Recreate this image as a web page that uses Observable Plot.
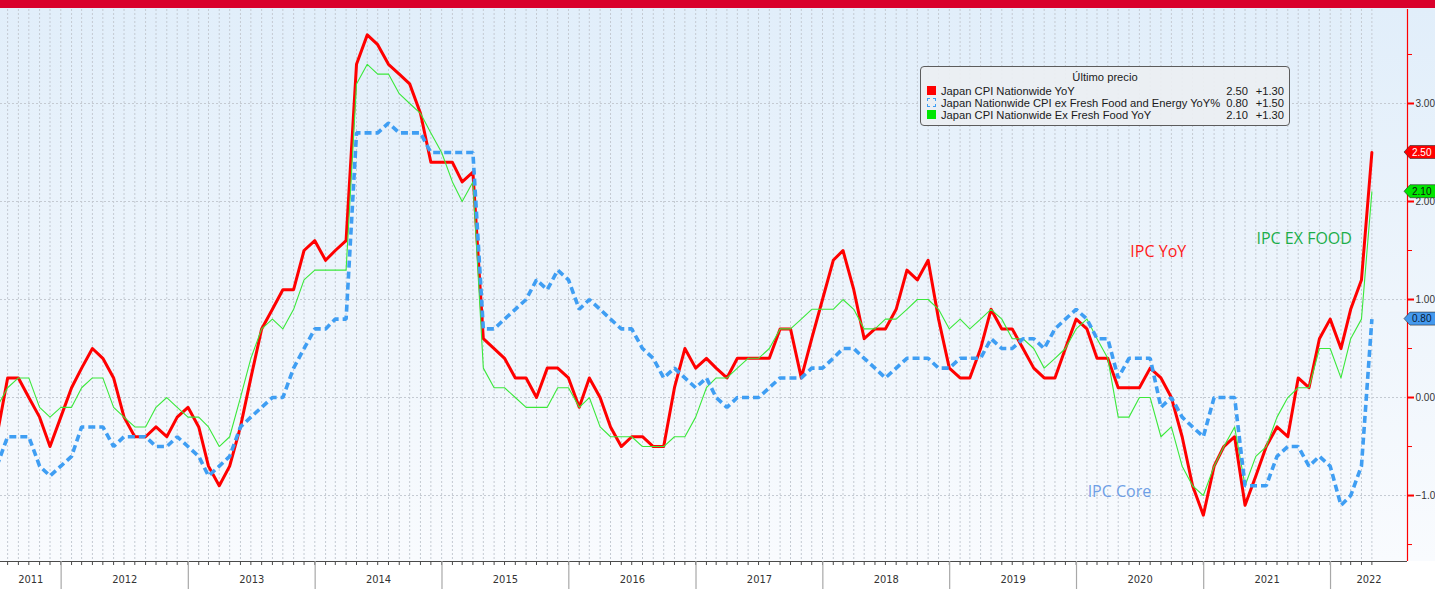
<!DOCTYPE html>
<html>
<head>
<meta charset="utf-8">
<script src="https://cdn.jsdelivr.net/npm/d3@7"></script>
<script src="https://cdn.jsdelivr.net/npm/@observablehq/plot@0.6"></script>
<style>
  body { margin: 0; background: #ffffff; }
  #wrap { position: relative; width: 1435px; height: 589px; overflow: hidden; }
  #topbar { height: 8px; background: #d9002b; }
  #chart svg { display: block; }
  #legend {
    position: absolute; left: 920px; top: 66px; width: 368px; height: 58px;
    border: 1px solid #5c5c5c; border-radius: 4px; background: rgba(236, 239, 242, 0.92);
    font-family: "Liberation Sans", Arial, sans-serif; font-size: 11.2px; color: #1a1a1a;
  }
  #legend .title { position: absolute; left: 0; width: 100%; top: 4px; text-align: center; }
  #legend .row { position: absolute; left: 0; width: 100%; height: 12px; line-height: 12px; }
  #legend .sw { position: absolute; left: 6px; top: 1px; width: 9px; height: 9px; box-sizing: border-box; }
  #legend .name { position: absolute; left: 20px; white-space: nowrap; }
  #legend .last { position: absolute; right: 41px; text-align: right; }
  #legend .chg { position: absolute; right: 5px; text-align: right; }
</style>
</head>
<body>
<div id="wrap">
  <div id="topbar"></div>
  <div id="chart"></div>
  <div id="legend"></div>
</div>
<script>
// ---- Data (monthly, June 2011 .. April 2022) ----
const firstMonth = { year: 2011, month: 6 };

const cpiYoY = [
  -0.4, 0.2, 0.2, 0.0, -0.2, -0.5, -0.2,
  0.1, 0.3, 0.5, 0.4, 0.2, -0.2, -0.4, -0.4, -0.3, -0.4, -0.2, -0.1,
  -0.3, -0.7, -0.9, -0.7, -0.3, 0.2, 0.7, 0.9, 1.1, 1.1, 1.5, 1.6,
  1.4, 1.5, 1.6, 3.4, 3.7, 3.6, 3.4, 3.3, 3.2, 2.9, 2.4, 2.4,
  2.4, 2.2, 2.3, 0.6, 0.5, 0.4, 0.2, 0.2, 0.0, 0.3, 0.3, 0.2,
  -0.1, 0.2, 0.0, -0.3, -0.5, -0.4, -0.4, -0.5, -0.5, 0.1, 0.5, 0.3,
  0.4, 0.3, 0.2, 0.4, 0.4, 0.4, 0.4, 0.7, 0.7, 0.2, 0.6, 1.0,
  1.4, 1.5, 1.1, 0.6, 0.7, 0.7, 0.9, 1.3, 1.2, 1.4, 0.8, 0.3,
  0.2, 0.2, 0.5, 0.9, 0.7, 0.7, 0.5, 0.3, 0.2, 0.2, 0.5, 0.8,
  0.7, 0.4, 0.4, 0.1, 0.1, 0.1, 0.3, 0.2, 0.0, -0.4, -0.9, -1.2,
  -0.7, -0.5, -0.4, -1.1, -0.8, -0.5, -0.3, -0.4, 0.2, 0.1, 0.6, 0.8,
  0.5, 0.9, 1.2, 2.5
];

const coreCoreYoY = [
  -0.7, -0.4, -0.4, -0.4, -0.7, -0.8, -0.7,
  -0.6, -0.3, -0.3, -0.3, -0.5, -0.4, -0.4, -0.4, -0.5, -0.5, -0.4, -0.5,
  -0.6, -0.8, -0.7, -0.6, -0.3, -0.2, -0.1, 0.0, 0.0, 0.3, 0.5, 0.7,
  0.7, 0.8, 0.8, 2.7, 2.7, 2.7, 2.8, 2.7, 2.7, 2.7, 2.5, 2.5,
  2.5, 2.5, 2.5, 0.7, 0.7, 0.8, 0.9, 1.0, 1.2, 1.1, 1.3, 1.2,
  0.9, 1.0, 0.9, 0.8, 0.7, 0.7, 0.5, 0.4, 0.2, 0.3, 0.2, 0.1,
  0.2, 0.0, -0.1, 0.0, 0.0, 0.0, 0.1, 0.2, 0.2, 0.2, 0.3, 0.3,
  0.4, 0.5, 0.5, 0.4, 0.3, 0.2, 0.3, 0.4, 0.4, 0.4, 0.3, 0.3,
  0.4, 0.4, 0.4, 0.6, 0.5, 0.5, 0.6, 0.6, 0.5, 0.7, 0.8, 0.9,
  0.8, 0.6, 0.6, 0.2, 0.4, 0.4, 0.4, -0.1, 0.0, -0.2, -0.3, -0.4,
  0.0, 0.0, 0.0, -0.9, -0.9, -0.9, -0.6, -0.5, -0.5, -0.7, -0.6, -0.7,
  -1.1, -1.0, -0.7, 0.8
];

const exFreshFoodYoY = [
  -0.1, 0.1, 0.2, 0.2, -0.1, -0.2, -0.1,
  -0.1, 0.1, 0.2, 0.2, -0.1, -0.2, -0.3, -0.3, -0.1, 0.0, -0.1, -0.2,
  -0.2, -0.3, -0.5, -0.4, 0.0, 0.4, 0.7, 0.8, 0.7, 0.9, 1.2, 1.3,
  1.3, 1.3, 1.3, 3.2, 3.4, 3.3, 3.3, 3.1, 3.0, 2.9, 2.7, 2.5,
  2.2, 2.0, 2.2, 0.3, 0.1, 0.1, 0.0, -0.1, -0.1, -0.1, 0.1, 0.1,
  -0.1, 0.0, -0.3, -0.4, -0.4, -0.4, -0.5, -0.5, -0.5, -0.4, -0.4, -0.2,
  0.1, 0.2, 0.2, 0.3, 0.4, 0.4, 0.5, 0.7, 0.7, 0.8, 0.9, 0.9,
  0.9, 1.0, 0.9, 0.7, 0.7, 0.8, 0.8, 0.9, 1.0, 1.0, 0.9, 0.7,
  0.8, 0.7, 0.8, 0.9, 0.8, 0.6, 0.6, 0.5, 0.3, 0.4, 0.5, 0.7,
  0.8, 0.6, 0.4, -0.2, -0.2, 0.0, 0.0, -0.4, -0.3, -0.7, -0.9, -1.0,
  -0.7, -0.5, -0.3, -0.9, -0.6, -0.5, -0.2, 0.0, 0.1, 0.1, 0.5, 0.5,
  0.2, 0.6, 0.8, 2.1
];

const seriesNames = [
  "Japan CPI Nationwide YoY",
  "Japan Nationwide CPI ex Fresh Food and Energy YoY%",
  "Japan CPI Nationwide Ex Fresh Food YoY"
];
const lastChanges = ["+1.30", "+1.50", "+1.30"];
const legendTitle = "Último precio";

const yearLabels = ["2011","2012","2013","2014","2015","2016","2017","2018","2019","2020","2021","2022"];
const yMajorTicks = [-1, 0, 1, 2, 3];
const yMinorTicks = [-1.5, -0.5, 0.5, 1.5, 2.5, 3.5];

const annotations = [
  { label: "IPC YoY",     date: "2020-06-04", value: 1.49 },
  { label: "IPC EX FOOD", date: "2021-06-02", value: 1.62 },
  { label: "IPC Core",    date: "2020-02-02", value: -0.96 }
];

// ---- Styles ----
const colors = { cpi: "#ff0000", cc: "#3f9ef3", core: "#3be83b" };
const annColors = ["#ff1a1a", "#1cae4a", "#6f9fe6"];

// ---- Derived tables ----
const months = cpiYoY.map((_, i) => new Date(Date.UTC(firstMonth.year, firstMonth.month - 1 + i + 1, 0)));
const rows = months.map((d, i) => ({ date: d, cpi: cpiYoY[i], cc: coreCoreYoY[i], core: exFreshFoodYoY[i] }));

const x0 = new Date("2011-07-10T12:00:00Z");
const x1 = new Date("2022-08-10T12:00:00Z");
const yMin = -1.673, yMax = 3.959;

const visibleMonths = months.filter(d => d >= x0 && d <= x1);
const yearStarts = yearLabels.slice(1).map(y => new Date(Date.UTC(+y, 0, 1)));
const yearCenters = yearLabels.map(y => {
  const a = Math.max(Date.UTC(+y, 0, 1), +x0);
  const b = Math.min(Date.UTC(+y + 1, 0, 1), +x1);
  return { label: y, date: new Date((a + b) / 2) };
});

const last = rows[rows.length - 1];
const tagData = [
  { value: last.cpi,  fill: "#ff0000", text: "#ffffff" },
  { value: last.core, fill: "#00e600", text: "#111111" },
  { value: last.cc,   fill: "#4499ee", text: "#0a1a33" }
];

const fmt2 = d3.format(".2f");

function valueTags(index, scales, values, dims) {
  const g = d3.create("svg:g");
  const xr = dims.width - dims.marginRight;
  for (const t of tagData) {
    const y = scales.y(t.value);
    g.append("path")
      .attr("d", `M${xr - 3},${y} L${xr + 3},${y - 6.5} H${dims.width + 2} V${y + 6.5} H${xr + 3} Z`)
      .attr("fill", t.fill).attr("stroke", "#2a2a2a").attr("stroke-width", 0.6);
    g.append("text")
      .attr("x", xr + 5).attr("y", y).attr("dy", "0.36em")
      .attr("text-anchor", "start")
      .attr("fill", t.text).attr("font-size", 10)
      .attr("font-family", "Liberation Sans, Arial, sans-serif")
      .text(fmt2(t.value));
  }
  return g.node();
}

const chart = Plot.plot({
  width: 1435,
  height: 581,
  marginTop: 1,
  marginBottom: 28,
  marginLeft: 0,
  marginRight: 28,
  style: {
    background: "linear-gradient(to bottom, #e1eefa 0px, #eef5fc 300px, #f9fbfe 553px, #ffffff 553px)",
    fontFamily: "Liberation Sans, Arial, sans-serif",
    fontSize: "10px",
    overflow: "visible"
  },
  x: { type: "utc", domain: [x0, x1] },
  y: { domain: [yMin, yMax] },
  marks: [
    Plot.ruleX(visibleMonths, { stroke: "#c4cad2", strokeDasharray: "2,2", strokeWidth: 1 }),
    Plot.ruleY(yMajorTicks, { stroke: "#c4cad2", strokeDasharray: "2,2", strokeWidth: 1 }),
    Plot.line(rows, { x: "date", y: "cpi", stroke: colors.cpi, strokeWidth: 3, clip: true }),
    Plot.line(rows, { x: "date", y: "core", stroke: colors.core, strokeWidth: 1.1, clip: true }),
    Plot.line(rows, {
      x: "date", y: "cc", stroke: colors.cc, strokeWidth: 3.6,
      strokeDasharray: "7,4", strokeLinecap: "butt", strokeLinejoin: "miter", clip: true
    }),
    Plot.text(annotations, {
      x: d => new Date(d.date), y: "value", text: "label", textAnchor: "start",
      fill: (d, i) => annColors[i], fontSize: 16, fontFamily: "Open Sans, sans-serif"
    }),
    Plot.ruleY([yMin], { stroke: "#4a4a4a", strokeWidth: 1 }),
    Plot.axisX(visibleMonths, { tickSize: 4, tickFormat: () => "", stroke: "#4a4a4a", label: null }),
    Plot.axisX(yearStarts, { tickSize: 28, tickFormat: () => "", stroke: "#a8a8a8", strokeWidth: 1.2, label: null }),
    Plot.text(yearCenters, {
      x: "date", text: "label", frameAnchor: "bottom", dy: 21, fill: "#333333",
      fontSize: 11, fontFamily: "Liberation Sans Narrow, DejaVu Sans Condensed, Arial Narrow, sans-serif"
    }),
    Plot.ruleX([x1], { stroke: "#ff0000", strokeWidth: 1.2 }),
    Plot.axisY(yMinorTicks, { anchor: "right", tickSize: 4, tickFormat: () => "", stroke: "#ff0000", label: null }),
    Plot.axisY(yMajorTicks, {
      anchor: "right", tickSize: 6, tickPadding: 2, tickFormat: fmt2,
      stroke: "#ff0000", strokeWidth: 2, fill: "#333333", fontSize: 10, label: null
    }),
    valueTags
  ]
});
document.getElementById("chart").appendChild(chart);

// ---- Legend ----
const legend = d3.select("#legend");
legend.append("div").attr("class", "title").text(legendTitle);
const swatchStyles = [
  `background:${colors.cpi};`,
  `border:1.5px dashed ${colors.cc};background:transparent;`,
  `background:#00e600;`
];
const lastValues = [last.cpi, last.cc, last.core];
seriesNames.forEach((name, i) => {
  const r = legend.append("div").attr("class", "row").style("top", `${18 + i * 12}px`);
  r.append("div").attr("class", "sw").attr("style", swatchStyles[i]);
  r.append("span").attr("class", "name").text(name);
  r.append("span").attr("class", "last").text(fmt2(lastValues[i]));
  r.append("span").attr("class", "chg").text(lastChanges[i]);
});
</script>
</body>
</html>
